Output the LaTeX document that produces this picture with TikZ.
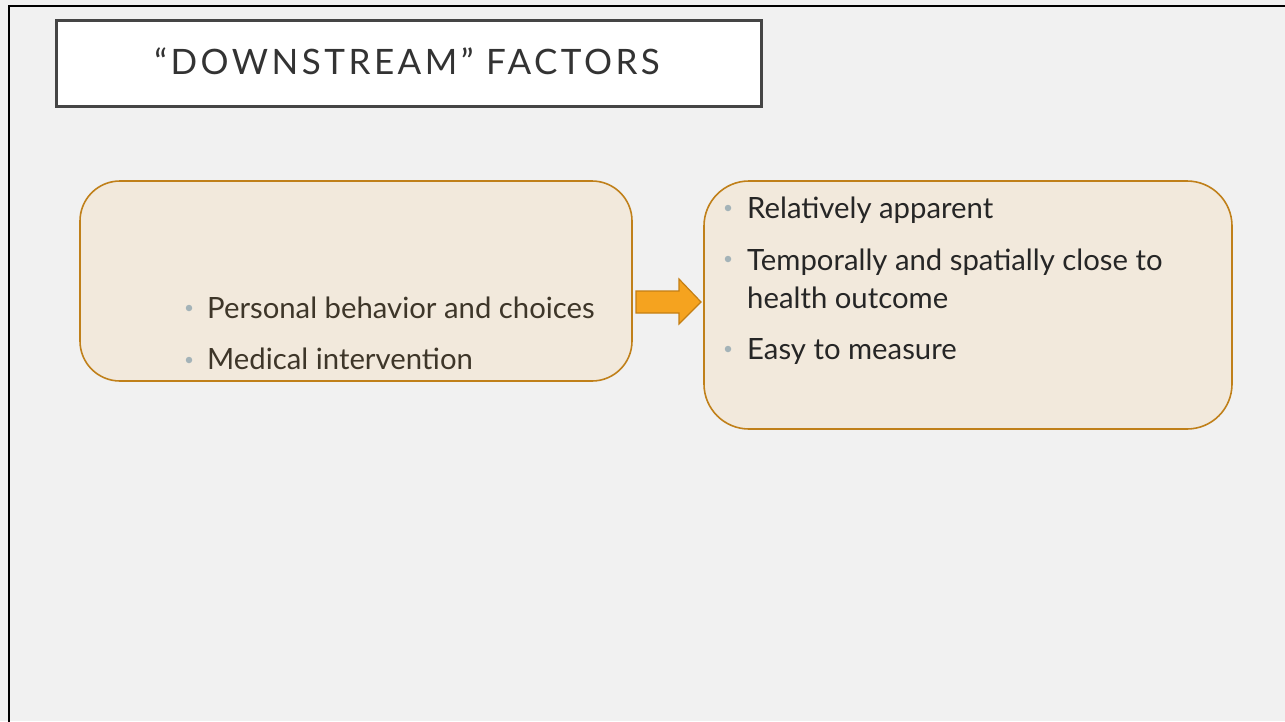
\documentclass[tikz,border=0pt]{standalone}
\usepackage{fontspec}
\setmainfont{Lato}
\newfontfamily\titlefont[LetterSpace=10]{Lato}
\definecolor{slidebg}{HTML}{F1F1F1}
\definecolor{boxfill}{HTML}{F2E9DC}
\definecolor{boxline}{HTML}{C0801A}
\definecolor{arrowfill}{HTML}{F5A31F}
\definecolor{arrowline}{HTML}{C47F14}
\definecolor{bulletcol}{HTML}{A4B3B8}
\definecolor{lefttext}{HTML}{3E3629}
\definecolor{righttext}{HTML}{262626}
\definecolor{titletext}{HTML}{333333}
\definecolor{titleline}{HTML}{454545}
\tikzset{
  panel/.style={draw=boxline, line width=1.6pt, fill=boxfill, rounded corners=40pt},
  itemtext/.style={anchor=base west, inner sep=0pt, font=\fontsize{29.3}{34}\selectfont},
  dot/.style={circle, fill=bulletcol, inner sep=0pt, minimum size=6.5pt},
}
\begin{document}
\begin{tikzpicture}[x=1pt,y=-1pt]
  \useasboundingbox (0,0) rectangle (1285,721);
  \fill[slidebg] (0,0) rectangle (1285,721);
  % slide frame
  \draw[black, line width=2.8pt] (9,740) -- (9,6) -- (1300,6);

  % title box
  \node[draw=titleline, line width=2.6pt, fill=white, minimum width=705pt, minimum height=86pt,
        inner sep=0pt, anchor=north west] (title) at (55,19) {};
  \node[anchor=base, inner sep=0pt, text=titletext, font=\titlefont\fontsize{35}{40}\selectfont]
        (titletxt) at (407,74) {“DOWNSTREAM” FACTORS};

  % left panel
  \draw[panel] (80,181) rectangle (632,381);
  \coordinate (leftE) at (632,302);
  \node[dot] (lb1) at (189,308) {};
  \node[itemtext, text=lefttext] (l1) at (207,318) {Personal behavior and choices};
  \node[dot] (lb2) at (189,360) {};
  \node[itemtext, text=lefttext] (l2) at (207,369) {Medical intervention};

  % right panel
  \draw[panel, rounded corners=45pt] (704,181) rectangle (1232,429);
  \coordinate (rightW) at (704,302);
  \node[dot] (rb1) at (728,208) {};
  \node[itemtext, text=righttext] (r1) at (747,218) {Relatively apparent};
  \node[dot] (rb2) at (728,259) {};
  \node[itemtext, text=righttext] (r2) at (747,270) {Temporally and spatially close to};
  \node[itemtext, text=righttext] (r3) at (747,308) {health outcome};
  \node[dot] (rb3) at (728,349) {};
  \node[itemtext, text=righttext] (r4) at (747,359) {Easy to measure};

  % block arrow between the panels
  \draw[fill=arrowfill, draw=arrowline, line width=1.2pt, line join=miter]
    ([xshift=4pt,yshift=-11pt]leftE) -- ([xshift=47pt,yshift=-11pt]leftE)
    -- ([xshift=47pt,yshift=-22pt]leftE) -- ([xshift=-3pt]rightW)
    -- ([xshift=47pt,yshift=23pt]leftE) -- ([xshift=47pt,yshift=11pt]leftE)
    -- ([xshift=4pt,yshift=11pt]leftE) -- cycle;
\end{tikzpicture}
\end{document}
